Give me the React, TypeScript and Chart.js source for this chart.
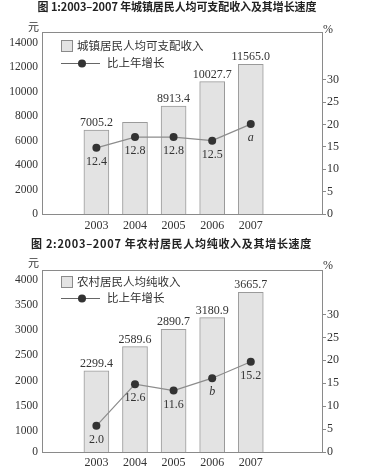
import React, { useEffect, useRef } from "react";
import { Chart, registerables } from "chart.js";

Chart.register(...registerables);

// ---------- data ----------
const years = ["2003", "2004", "2005", "2006", "2007"];

// Figure 1 (urban) — bar heights / point heights as drawn in the picture
const urbanIncome = [6880, 7510, 8845, 10835, 12260];
const urbanIncomeLabels = ["7005.2", "", "8913.4", "10027.7", "11565.0"];
const urbanGrowth = [14.8, 17.2, 17.2, 16.4, 20.1];
const urbanGrowthLabels = ["12.4", "12.8", "12.8", "12.5", "a"];
const urbanIncomeTicks = [0, 2000, 4000, 6000, 8000, 10000, 12000, 14000];
const urbanGrowthTicks = [0, 5, 10, 15, 20, 25, 30];

// Figure 2 (rural) — left axis is broken between 0 and 1000
const ruralIncome = [2192, 2675, 3021, 3251, 3756];
const ruralIncomeLabels = ["2299.4", "2589.6", "2890.7", "3180.9", "3665.7"];
const ruralGrowth = [5.7, 14.8, 13.4, 16.1, 19.7];
const ruralGrowthLabels = ["2.0", "12.6", "11.6", "b", "15.2"];
const ruralIncomeTicks = [0, 1000, 1500, 2000, 2500, 3000, 3500, 4000];
const ruralGrowthTicks = [0, 5, 10, 15, 20, 25, 30];

const title1 = "图 1:2003–2007 年城镇居民人均可支配收入及其增长速度";
const title2 = "图 2:2003–2007 年农村居民人均纯收入及其增长速度";
const legendIncome1 = "城镇居民人均可支配收入";
const legendIncome2 = "农村居民人均纯收入";
const legendGrowth = "比上年增长";
const unitLeft = "元";
const unitRight = "%";

// ---------- styles ----------
const SERIF = '"Liberation Serif", "DejaVu Serif", serif';
const CJK = '"Noto Sans CJK SC", "Noto Sans", sans-serif';
const TEXT = "#333";
const AXIS = "#8a8a8a";

type Spec = {
  income: number[];
  incomeLabels: string[];
  growth: number[];
  growthLabels: string[];
  incomeTicks: number[];
  growthTicks: number[];
  incomeMin: number;
  incomeMax: number;
  breakZero: boolean;
  growthMax: number;
  legendIncome: string;
  height: number;
  topPad: number;
  xAxisH: number;
  xPad: number;
  legendY1: number;
  legendY2: number;
};

function ChartPanel({ spec }: { spec: Spec }) {
  const ref = useRef<HTMLCanvasElement | null>(null);
  useEffect(() => {
    if (!ref.current) return;
    const s = spec;
    const annotate = {
      id: "annotate",
      afterDatasetsDraw(chart: any) {
        const ctx = chart.ctx as CanvasRenderingContext2D;
        const a = chart.chartArea;
        ctx.save();
        // frame
        ctx.strokeStyle = AXIS;
        ctx.lineWidth = 1;
        ctx.strokeRect(
          Math.round(a.left) + 0.5,
          Math.round(a.top) + 0.5,
          Math.round(a.right - a.left),
          Math.round(a.bottom - a.top)
        );
        // bar labels
        const barMeta = chart.getDatasetMeta(1);
        ctx.fillStyle = TEXT;
        ctx.textAlign = "center";
        ctx.textBaseline = "alphabetic";
        ctx.font = `12px ${SERIF}`;
        barMeta.data.forEach((el: any, i: number) => {
          const t = s.incomeLabels[i];
          if (t) ctx.fillText(t, el.x, el.y - 4);
        });
        // point labels
        const lineMeta = chart.getDatasetMeta(0);
        ctx.textBaseline = "middle";
        lineMeta.data.forEach((el: any, i: number) => {
          const t = s.growthLabels[i];
          if (!t) return;
          ctx.font = /^[a-z]$/.test(t) ? `italic 12px ${SERIF}` : `12px ${SERIF}`;
          ctx.fillText(t, el.x, el.y + 14);
        });
        // legend
        const lx = a.left;
        const y1 = a.top + s.legendY1;
        const y2 = a.top + s.legendY2;
        ctx.fillStyle = "#e3e3e3";
        ctx.fillRect(lx + 19.5, y1 - 5.5, 11, 11);
        ctx.strokeStyle = "#8a8a8a";
        ctx.strokeRect(lx + 19.5, y1 - 5.5, 11, 11);
        ctx.fillStyle = TEXT;
        ctx.textAlign = "left";
        ctx.font = `11.5px ${CJK}`;
        ctx.fillText(s.legendIncome, lx + 35, y1);
        ctx.strokeStyle = "#666";
        ctx.beginPath();
        ctx.moveTo(lx + 19, y2 + 0.5);
        ctx.lineTo(lx + 58, y2 + 0.5);
        ctx.stroke();
        ctx.fillStyle = "#333";
        ctx.beginPath();
        ctx.arc(lx + 40, y2 + 0.5, 4, 0, Math.PI * 2);
        ctx.fill();
        ctx.fillStyle = TEXT;
        ctx.fillText(legendGrowth, lx + 65, y2);
        // units
        ctx.textAlign = "center";
        ctx.font = `11px ${CJK}`;
        ctx.fillText(unitLeft, 33.5, 27);
        ctx.font = `12px ${SERIF}`;
        ctx.fillText(unitRight, 328, 30);
        ctx.restore();
      },
    };

    const chart = new Chart(ref.current, {
      type: "bar",
      data: {
        datasets: [
          {
            type: "line",
            data: s.growth.map((v, i) => ({ x: i, y: v })),
            yAxisID: "y1",
            borderColor: "#8c8c8c",
            borderWidth: 1.2,
            pointRadius: 4,
            pointBackgroundColor: "#333",
            pointBorderColor: "#333",
            pointBorderWidth: 0,
            order: 1,
          } as any,
          {
            type: "bar",
            data: s.income.map((v, i) => ({ x: i, y: v })),
            yAxisID: "y",
            backgroundColor: "#e3e3e3",
            borderColor: "#9a9a9a",
            borderWidth: 1,
            barThickness: 25,
            order: 2,
          } as any,
        ],
      },
      options: {
        animation: false,
        responsive: false,
        layout: { padding: { top: s.topPad, left: 0, right: 0, bottom: 0 } },
        plugins: {
          legend: { display: false },
          tooltip: { enabled: false },
          title: { display: false },
        },
        scales: {
          x: {
            type: "linear",
            min: -0.684,
            max: 5.12,
            grid: { display: false, drawTicks: false },
            border: { display: true, color: AXIS },
            afterBuildTicks: (sc: any) => {
              sc.ticks = years.map((_, i) => ({ value: i }));
            },
            afterFit: (sc: any) => {
              sc.height = s.xAxisH;
            },
            ticks: {
              padding: s.xPad,
              color: TEXT,
              font: { family: SERIF, size: 12 },
              maxRotation: 0,
              callback: (v: any) => years[Math.round(Number(v))] ?? "",
            },
          },
          y: {
            type: "linear",
            position: "left",
            min: s.incomeMin,
            max: s.incomeMax,
            grid: { display: false, drawTicks: false },
            border: { display: true, color: AXIS },
            afterBuildTicks: (sc: any) => {
              sc.ticks = s.incomeTicks.map((v) => ({
                value: s.breakZero && v === 0 ? s.incomeMin : v,
              }));
            },
            afterFit: (sc: any) => {
              sc.width = 42;
            },
            ticks: {
              padding: 4,
              color: TEXT,
              font: { family: SERIF, size: 11.5 },
              callback: (v: any) =>
                s.breakZero && Number(v) === s.incomeMin ? "0" : String(v),
            },
          },
          y1: {
            type: "linear",
            position: "right",
            min: 0,
            max: s.growthMax,
            grid: { display: true, drawOnChartArea: false, drawTicks: true, tickLength: 4, color: AXIS },
            border: { display: true, color: AXIS },
            afterBuildTicks: (sc: any) => {
              sc.ticks = s.growthTicks.map((v) => ({ value: v }));
            },
            afterFit: (sc: any) => {
              sc.width = 68;
            },
            ticks: {
              padding: 1,
              color: TEXT,
              font: { family: SERIF, size: 12 },
              callback: (v: any) => String(v),
            },
          },
        },
      } as any,
      plugins: [annotate],
    });
    return () => chart.destroy();
  }, [spec]);
  return <canvas ref={ref} width={390} height={spec.height} style={{ display: "block" }} />;
}

const spec1: Spec = {
  income: urbanIncome,
  incomeLabels: urbanIncomeLabels,
  growth: urbanGrowth,
  growthLabels: urbanGrowthLabels,
  incomeTicks: urbanIncomeTicks,
  growthTicks: urbanGrowthTicks,
  incomeMin: 0,
  incomeMax: 14900,
  breakZero: false,
  growthMax: 40.7,
  legendIncome: legendIncome1,
  height: 236,
  topPad: 32,
  xAxisH: 22,
  xPad: 5,
  legendY1: 14,
  legendY2: 31,
};

const spec2: Spec = {
  income: ruralIncome,
  incomeLabels: ruralIncomeLabels,
  growth: ruralGrowth,
  growthLabels: ruralGrowthLabels,
  incomeTicks: ruralIncomeTicks,
  growthTicks: ruralGrowthTicks,
  incomeMin: 580,
  incomeMax: 4199,
  breakZero: true,
  growthMax: 39.7,
  legendIncome: legendIncome2,
  height: 238,
  topPad: 34,
  xAxisH: 22,
  xPad: 4,
  legendY1: 12,
  legendY2: 28,
};

const titleStyle: React.CSSProperties = {
  position: "absolute",
  left: 0,
  textAlign: "center",
  fontFamily: CJK,
  fontWeight: 700,
  fontSize: 11,
  lineHeight: "12px",
  color: "#222",
  whiteSpace: "nowrap",
  zIndex: 2,
};

export default function App() {
  return (
    <div style={{ position: "absolute", left: 0, top: 0, width: 390, height: 474, background: "#fff", overflow: "hidden" }}>
      <div style={{ position: "absolute", left: 0, top: 0 }}>
        <ChartPanel spec={spec1} />
      </div>
      <div style={{ position: "absolute", left: 0, top: 236 }}>
        <ChartPanel spec={spec2} />
      </div>
      <div style={{ ...titleStyle, top: 0, left: 8, width: 338, letterSpacing: "-0.1px" }}>{title1}</div>
      <div style={{ ...titleStyle, top: 237, width: 343, letterSpacing: "0.7px" }}>{title2}</div>
    </div>
  );
}
